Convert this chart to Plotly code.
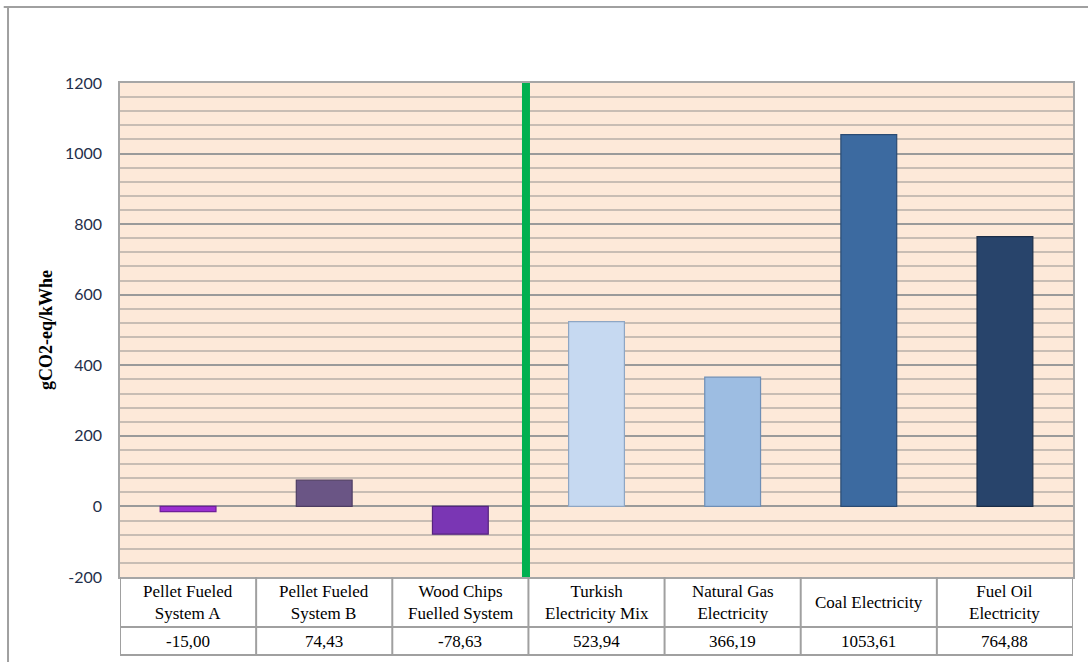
import plotly.graph_objects as go

# Life-cycle emission factors per heating / electricity option
categories = [
    "Pellet Fueled<br>System A",
    "Pellet Fueled<br>System B",
    "Wood Chips<br>Fuelled System",
    "Turkish<br>Electricity Mix",
    "Natural Gas<br>Electricity",
    "Coal Electricity",
    "Fuel Oil<br>Electricity",
]
values = [-15.00, 74.43, -78.63, 523.94, 366.19, 1053.61, 764.88]
value_labels = ["-15,00", "74,43", "-78,63", "523,94", "366,19", "1053,61", "764,88"]
bar_colors = ["#9a2fd0", "#6a5585", "#7a36b4", "#c6d9f1", "#9dbde2", "#3c6aa0", "#28446b"]
edge_colors = ["#6f1e99", "#4e3d63", "#55247f", "#8ea6c4", "#6f8fb6", "#2a4b73", "#1a2d48"]
y_ticks = [-200, 0, 200, 400, 600, 800, 1000, 1200]
y_tick_text = ["-200", "0", "200", "400", "600", "800", "1000", "1200"]

x_idx = list(range(len(categories)))

fig = go.Figure()
fig.add_trace(go.Bar(
    x=x_idx,
    y=values,
    width=0.41,
    marker=dict(color=bar_colors, line=dict(color=edge_colors, width=1.2)),
    hoverinfo="y",
    showlegend=False,
))

GRID = "#a6a6a6"
TABLE = "#a0a0a0"
shapes = []

# Separator between biomass systems and grid electricity
shapes.append(dict(type="line", xref="x", yref="paper", x0=2.482, x1=2.482, y0=0, y1=1,
                   line=dict(color="#00b050", width=8), layer="above"))

# Data table under the plot (rows in paper units below the axis)
row1_bottom = -50 / 494
row2_bottom = -78 / 494
for yb in [row1_bottom, row2_bottom]:
    shapes.append(dict(type="line", xref="paper", yref="paper", x0=0, x1=1, y0=yb, y1=yb,
                       line=dict(color=TABLE, width=2)))
for i in range(len(categories) + 1):
    shapes.append(dict(type="line", xref="x", yref="paper", x0=i - 0.5, x1=i - 0.5,
                       y0=0, y1=row2_bottom, line=dict(color=TABLE, width=2)))

# Outer chart frame
shapes.append(dict(type="line", xref="paper", yref="paper", x0=-0.122, x1=1.02,
                   y0=1.1538, y1=1.1538, line=dict(color="#a0a0a0", width=2)))
shapes.append(dict(type="line", xref="paper", yref="paper", x0=-0.1175, x1=-0.1175,
                   y0=1.1538, y1=-0.2, line=dict(color="#a0a0a0", width=2)))

annotations = []
for i, (c, v) in enumerate(zip(categories, value_labels)):
    annotations.append(dict(x=i, y=(0 + row1_bottom) / 2, xref="x", yref="paper",
                            xanchor="center", yanchor="middle",
                            text=c, showarrow=False, align="center",
                            font=dict(family="Liberation Serif", size=17, color="#000000")))
    annotations.append(dict(x=i, y=(row1_bottom + row2_bottom) / 2, xref="x", yref="paper",
                            xanchor="center", yanchor="middle",
                            text=v, showarrow=False,
                            font=dict(family="Liberation Serif", size=17, color="#000000")))

annotations.append(dict(x=-0.0777, y=0.5, xref="paper", yref="paper", text="<b>gCO2-eq/kWhe</b>",
                        xanchor="center", yanchor="middle",
                        textangle=-90, showarrow=False,
                        font=dict(family="Liberation Serif", size=18, color="#000000")))

fig.update_layout(
    width=1088, height=662,
    margin=dict(l=120, r=15, t=83, b=85),
    paper_bgcolor="white",
    plot_bgcolor="#fde9d9",
    bargap=0.59,
    shapes=shapes,
    annotations=annotations,
    xaxis=dict(range=[-0.5, 6.5], showticklabels=False, showgrid=False, zeroline=False,
               showline=True, linecolor=GRID, linewidth=1.5, mirror=True, ticks=""),
    yaxis=dict(range=[-200, 1200], tickvals=y_ticks, ticktext=y_tick_text, showgrid=True,
               gridcolor="#9a9a9a", gridwidth=1.5, zeroline=False, showline=True,
               linecolor=GRID, linewidth=1.5, mirror=True, ticks="", ticklabelstandoff=13,
               tickfont=dict(family="Lato", size=16, color="#1f2f4a"),
               minor=dict(dtick=40, showgrid=True, gridcolor="#c8bdb4", gridwidth=1.5)),
)

fig.write_html("out.html")
